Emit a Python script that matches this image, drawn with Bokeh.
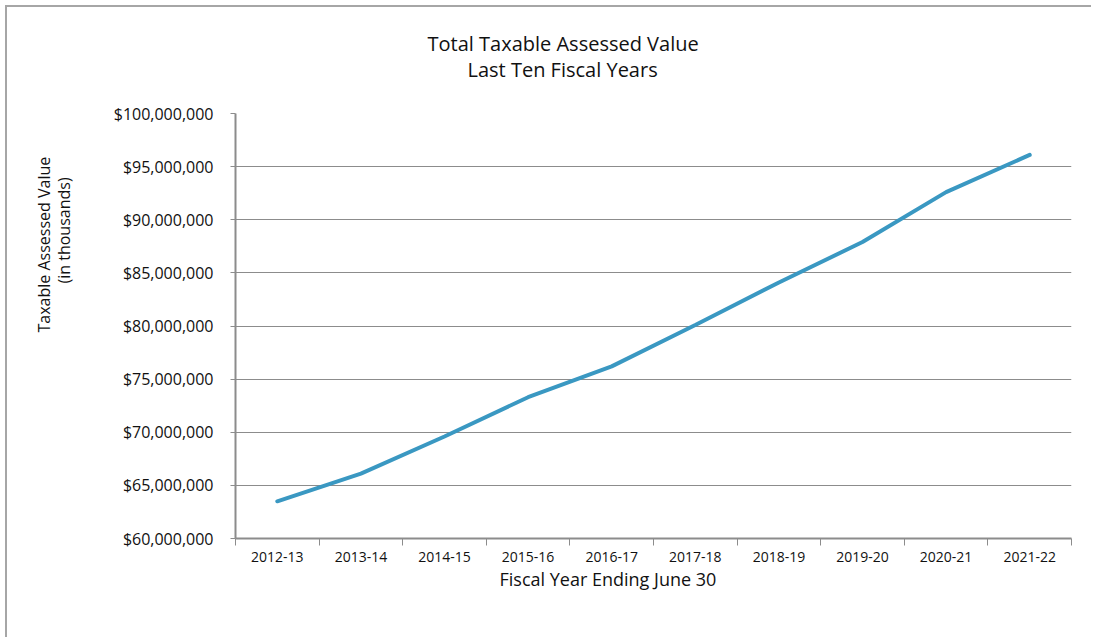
from bokeh.plotting import figure
from bokeh.models import Range1d, FixedTicker, NumeralTickFormatter, Title
from bokeh.embed import file_html
from bokeh.resources import INLINE

# ---- data ----
fiscal_years = ["2012-13", "2013-14", "2014-15", "2015-16", "2016-17",
                "2017-18", "2018-19", "2019-20", "2020-21", "2021-22"]
assessed_value = [63500000, 66100000, 69600000, 73300000, 76200000,
                  80100000, 84100000, 87900000, 92600000, 96100000]
y_ticks = [60000000, 65000000, 70000000, 75000000, 80000000,
           85000000, 90000000, 95000000, 100000000]

title_lines = ["Total Taxable Assessed Value", "Last Ten Fiscal Years"]
x_title = "Fiscal Year Ending June 30"
y_title_lines = ["Taxable Assessed Value", "(in thousands)"]

FONT = "Open Sans"
GRAY = "#8c8c8c"
TXT = "#111111"

idx = list(range(len(fiscal_years)))

SHIFT = 7                       # margin of the host element
W, H = 1093 - SHIFT, 639 - SHIFT
FL, FT, FW, FH = 235 - SHIFT, 113 - SHIFT, 836, 425
p = figure(width=W, height=H, output_backend="svg", toolbar_location=None,
           x_range=Range1d(-0.5, len(fiscal_years) - 0.5),
           y_range=Range1d(y_ticks[0], y_ticks[-1]),
           min_border_left=FL, min_border_right=W - FL - FW,
           min_border_top=FT, min_border_bottom=H - FT - FH)
p.title = None
p.outline_line_color = None
p.background_fill_color = "white"
p.border_fill_color = "white"
p.styles = {"margin-left": "7px", "margin-top": "7px",
            "box-shadow": "-2px -2px 0px 0px #a6a6a6"}

p.line(idx, assessed_value, line_color="#3a98c2", line_width=4, line_cap="round")

# x axis
xa = p.xaxis[0]
xa.ticker = FixedTicker(ticks=idx, minor_ticks=[i - 0.5 for i in range(len(fiscal_years) + 1)])
xa.major_label_overrides = {i: f for i, f in enumerate(fiscal_years)}
xa.major_tick_out = 0
xa.major_tick_in = 0
xa.minor_tick_out = 7
xa.minor_tick_in = 0
xa.minor_tick_line_color = GRAY
xa.axis_line_color = GRAY
xa.axis_line_width = 2
xa.major_label_standoff = 6
xa.major_label_text_font = FONT
xa.major_label_text_font_size = "14px"
xa.major_label_text_color = TXT

# y axis
ya = p.yaxis[0]
ya.ticker = FixedTicker(ticks=y_ticks)
ya.formatter = NumeralTickFormatter(format="$0,0")
ya.major_tick_out = 5
ya.major_tick_in = 0
ya.minor_tick_line_color = None
ya.major_tick_line_color = GRAY
ya.axis_line_color = GRAY
ya.axis_line_width = 2
ya.major_label_standoff = 17
ya.major_label_text_font = FONT
ya.major_label_text_font_size = "16px"
ya.major_label_text_color = TXT

p.xgrid.grid_line_color = None
p.ygrid.ticker = FixedTicker(ticks=y_ticks)
p.ygrid.grid_line_color = GRAY
p.ygrid.grid_line_width = 1


def ttl(text, side, offset, standoff, size):
    p.add_layout(Title(text=text, align="left", offset=offset, standoff=standoff,
                       text_font=FONT, text_font_size=size, text_font_style="normal",
                       text_color=TXT), side)

# top (first added is closest to the frame; first one is an empty spacer)
ttl(" ", "above", 0, 3, "20px")
ttl(title_lines[1], "above", 232, -3, "20px")
ttl(title_lines[0], "above", 192, -3, "20px")
# bottom
ttl(x_title, "below", 264, 0, "18px")
# left
ttl(" ", "left", 0, 14, "16px")
ttl(y_title_lines[1], "left", 255, -4, "16px")
ttl(y_title_lines[0], "left", 206, -4, "16px")

open("out.html", "w").write(file_html(p, INLINE))
